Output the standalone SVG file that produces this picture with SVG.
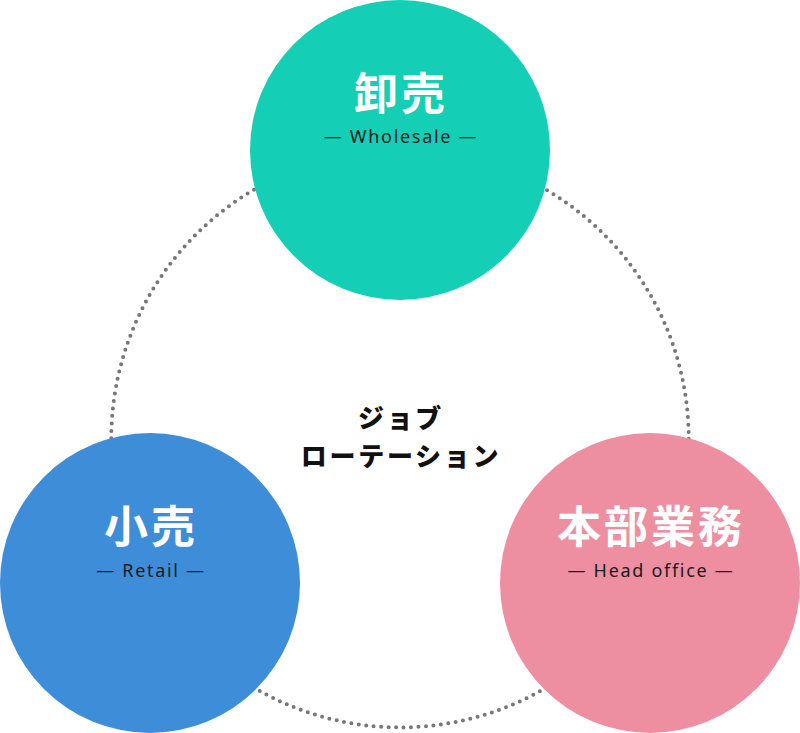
<svg xmlns="http://www.w3.org/2000/svg" width="800" height="733" viewBox="0 0 800 733">
<style>
.title{font-family:"Noto Sans CJK JP","Noto Sans",sans-serif;font-weight:700;font-size:44px;fill:#fff;text-anchor:middle;letter-spacing:3px}
.sub{font-family:"Noto Sans","Noto Sans CJK JP",sans-serif;font-size:18px;fill:#1a1a1a;text-anchor:middle;letter-spacing:1.7px}
.center{font-family:"Noto Sans CJK JP",sans-serif;font-weight:900;font-size:26px;fill:#111;text-anchor:middle;letter-spacing:2.7px}
</style>
<rect width="800" height="733" fill="#fff"/>
<g id="connectors">
<circle cx="400" cy="438.7" r="288.7" fill="none" stroke="#777" stroke-width="4" stroke-linecap="round" stroke-dasharray="0 7.496"/>
</g>
<g id="center-label">
<text class="center" x="401" y="428">ジョブ</text>
<text class="center" x="401" y="466">ローテーション</text>
</g>
<g id="wholesale">
<circle cx="400" cy="150" r="150" fill="#14CFB6"/>
<text class="title" x="401" y="110">卸売</text>
<text class="sub" x="401" y="143">— Wholesale —</text>
</g>
<g id="retail">
<circle cx="150" cy="583" r="150" fill="#3D8DD9"/>
<text class="title" x="151" y="543">小売</text>
<text class="sub" x="151" y="577">— Retail —</text>
</g>
<g id="head-office">
<circle cx="650" cy="583" r="150" fill="#EE8FA1"/>
<text class="title" x="651" y="543">本部業務</text>
<text class="sub" x="651" y="577">— Head office —</text>
</g>
</svg>
